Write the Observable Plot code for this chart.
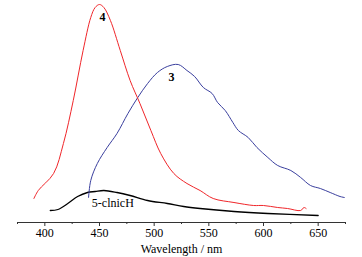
<!DOCTYPE html>
<html>
<head>
<meta charset="utf-8">
<script src="https://cdn.jsdelivr.net/npm/d3@7"></script>
<script src="https://cdn.jsdelivr.net/npm/@observablehq/plot@0.6"></script>
<style>
  html, body { margin: 0; padding: 0; background: #fff; }
  #chart svg, #chart svg text { font-family: "Liberation Serif", "Times New Roman", serif !important; }
</style>
</head>
<body>
<div id="chart"></div>
<script>
// Emission spectra (arbitrary intensity units)
const red4Wl  = [390, 394, 408, 417, 426, 435, 442, 446, 450, 454, 460, 469, 478, 487, 497, 506, 518, 530, 542, 554, 573, 591, 600, 613, 622, 634, 637, 639];
const red4Int = [24, 32, 49, 79, 122, 172, 205, 215, 218, 215, 202, 172, 142, 119, 92, 69, 49, 39, 32, 24, 20, 17, 17, 15, 14, 12, 15, 14];

const blue3Wl  = [440, 442, 448, 457, 466, 476, 485, 494, 503, 512, 522, 530, 537, 545, 553, 558, 565, 572, 577, 586, 594, 604, 613, 625, 634, 643, 652, 661, 670, 674];
const blue3Int = [25, 42, 59, 75, 89, 109, 125, 139, 150, 156, 158, 152, 146, 135, 129, 120, 112, 100, 92, 85, 75, 65, 57, 52, 45, 37, 34, 30, 26, 25];

const blackWl  = [405, 412, 421, 430, 439, 446, 454, 466, 478, 494, 512, 527, 542, 573, 604, 650];
const blackInt = [12, 13, 19, 26, 30, 31, 32, 30, 27, 22, 19, 16, 14, 11, 9, 7];

const majorTicks = [400, 450, 500, 550, 600, 650];
const minorTicks = [375, 425, 475, 525, 575, 625, 675];

const boldLabels = [
  {text: "4", wl: 450, y: 205},
  {text: "3", wl: 513, y: 145}
];
const plainLabels = [
  {text: "5-clnicH", wl: 443, y: 19}
];

const toRows = (wl, v) => wl.map((w, i) => ({w, v: v[i]}));

const font = "'Liberation Serif', 'Times New Roman', serif";

const chart = Plot.plot({
  width: 362,
  height: 257,
  marginLeft: 17,
  marginRight: 17,
  marginTop: 2,
  marginBottom: 35,
  style: {fontFamily: font, fontSize: "12px", color: "#000", background: "#fff"},
  x: {domain: [375, 675]},
  y: {domain: [0, 220], axis: null},
  marks: [
    Plot.ruleY([0], {stroke: "#333", strokeWidth: 1}),
    Plot.axisX({ticks: minorTicks, tickSize: 2, tickFormat: () => "", label: null, stroke: "#333"}),
    Plot.axisX({ticks: majorTicks, tickSize: 4, tickPadding: 2, tickFormat: d => String(d),
      label: "Wavelength / nm", labelAnchor: "center", labelArrow: "none", labelOffset: 30,
      stroke: "#333", fill: "#000", fontSize: 12}),
    Plot.line(toRows(blackWl, blackInt), {x: "w", y: "v", stroke: "#000", strokeWidth: 1.3, curve: "catmull-rom"}),
    Plot.line(toRows(blue3Wl, blue3Int), {x: "w", y: "v", stroke: "#3a3f9e", strokeWidth: 1, curve: "catmull-rom"}),
    Plot.line(toRows(red4Wl, red4Int), {x: "w", y: "v", stroke: "#f0262a", strokeWidth: 1, curve: "catmull-rom"}),
    Plot.text(boldLabels, {x: "wl", y: "y", text: "text", textAnchor: "start",
      fontWeight: "bold", fill: "#000", fontSize: 12}),
    Plot.text(plainLabels, {x: "wl", y: "y", text: "text", textAnchor: "start",
      fill: "#000", fontSize: 12})
  ]
});
document.getElementById("chart").appendChild(chart);
</script>
</body>
</html>
